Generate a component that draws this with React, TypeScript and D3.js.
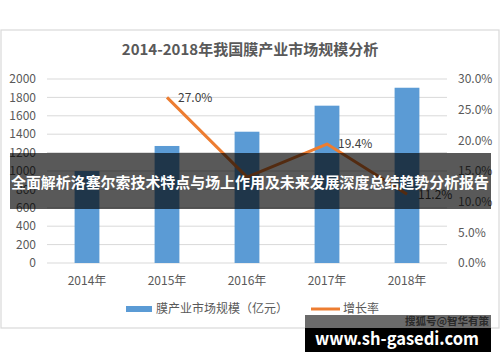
import React from 'react';
import * as d3 from 'd3';

const years = ['2014年', '2015年', '2016年', '2017年', '2018年'];
const marketSize = [1000, 1272, 1427, 1710, 1905];
const growthRate = [null, 27.0, 14.0, 19.4, 11.2];
// the 2016 label sits under the banner in the original, so it is not drawn
const showLabel = [false, true, false, true, true];
const leftTicks = [0, 200, 400, 600, 800, 1000, 1200, 1400, 1600, 1800, 2000];
const rightTicks = [0, 5, 10, 15, 20, 25, 30];

const W = 500;
const H = 362;
const FONT = '"Noto Sans CJK SC", "Noto Sans", sans-serif';

export default function App() {
  const margin = { left: 47, right: 53, top: 79, bottom: 99 }; // plot 47..447, 79..263
  const x = d3.scaleBand().domain(years).range([margin.left, W - margin.right]).padding(0);
  const yL = d3.scaleLinear().domain([0, 2000]).range([H - margin.bottom, margin.top]);
  const yR = d3.scaleLinear().domain([0, 30]).range([H - margin.bottom, margin.top]);
  const barW = x.bandwidth() * 0.31;
  const cx = (d: string) => (x(d) ?? 0) + x.bandwidth() / 2;

  const pts = years
    .map((d, i) => ({ year: d, v: growthRate[i], show: showLabel[i] }))
    .filter(p => p.v != null) as { year: string; v: number; show: boolean }[];
  const line = d3.line<{ year: string; v: number }>()
    .x(p => cx(p.year))
    .y(p => yR(p.v));

  return (
    <svg width={W} height={H} style={{ position: 'fixed', left: 0, top: 0 }} fontFamily={FONT}>
      <rect x={0} y={0} width={W} height={H} fill="#fff" />
      {/* chart frame */}
      <rect x={1} y={30} width={498} height={298} fill="#fff" stroke="#d9d9d9" strokeWidth={1.2} />
      <text x={250} y={55} textAnchor="middle" fontSize={15} fontWeight="bold" fill="#595959">
        2014-2018年我国膜产业市场规模分析
      </text>

      {/* grid + left axis */}
      {leftTicks.map(t => (
        <g key={t}>
          <line x1={margin.left} x2={W - margin.right} y1={yL(t)} y2={yL(t)} stroke="#d9d9d9" strokeWidth={1} />
          <text x={36} y={yL(t)} dy="0.35em" textAnchor="end" fontSize={12} fill="#595959">{t}</text>
        </g>
      ))}
      {rightTicks.map(t => (
        <text key={t} x={458} y={yR(t)} dy="0.35em" fontSize={12} fill="#595959">{t.toFixed(1)}%</text>
      ))}

      {/* bars */}
      {years.map((d, i) => (
        <rect key={d} x={cx(d) - barW / 2} y={yL(marketSize[i])} width={barW}
          height={yL(0) - yL(marketSize[i])} fill="#5b9bd5" />
      ))}
      {years.map(d => (
        <text key={d} x={cx(d)} y={285} textAnchor="middle" fontSize={12} fill="#595959">{d}</text>
      ))}

      {/* growth line */}
      <path d={line(pts) ?? ''} fill="none" stroke="#ed7d31" strokeWidth={3} strokeLinejoin="round" />
      {pts.filter(p => p.show).map(p => (
        <text key={p.year} x={cx(p.year) + 11} y={yR(p.v)} dy="0.35em" fontSize={12} fill="#404040">
          {p.v.toFixed(1)}%
        </text>
      ))}

      {/* legend */}
      <rect x={126} y={306} width={26} height={6} fill="#5b9bd5" />
      <text x={156} y={309} dy="0.35em" fontSize={12} fill="#595959">膜产业市场规模（亿元）</text>
      <line x1={311} x2={340} y1={309} y2={309} stroke="#ed7d31" strokeWidth={3} />
      <text x={343} y={309} dy="0.35em" fontSize={12} fill="#595959">增长率</text>

      {/* overlay banner */}
      <rect x={10} y={153} width={481} height={56} fill="rgba(0,0,0,0.65)" />
      <text x={250} y={183} dy="0.35em" textAnchor="middle" fontSize={15} fontWeight="bold" fill="#fff"
        textLength={478} lengthAdjust="spacingAndGlyphs">
        全面解析洛塞尔索技术特点与场上作用及未来发展深度总结趋势分析报告
      </text>

      {/* watermark */}
      <rect x={305} y={315} width={186} height={13} fill="#6b6b6b" />
      <rect x={305} y={328} width={186} height={24} fill="#000" />
      <text x={489} y={321.5} dy="0.35em" textAnchor="end" fontSize={10.5} fontWeight="bold" fill="#2a2a2a">
        搜狐号@智华有策
      </text>
      <text x={315} y={339} dy="0.35em" fontSize={18} fontWeight="bold" fill="#fff"
        textLength={164} lengthAdjust="spacingAndGlyphs">
        www.sh-gasedi.com
      </text>
    </svg>
  );
}
